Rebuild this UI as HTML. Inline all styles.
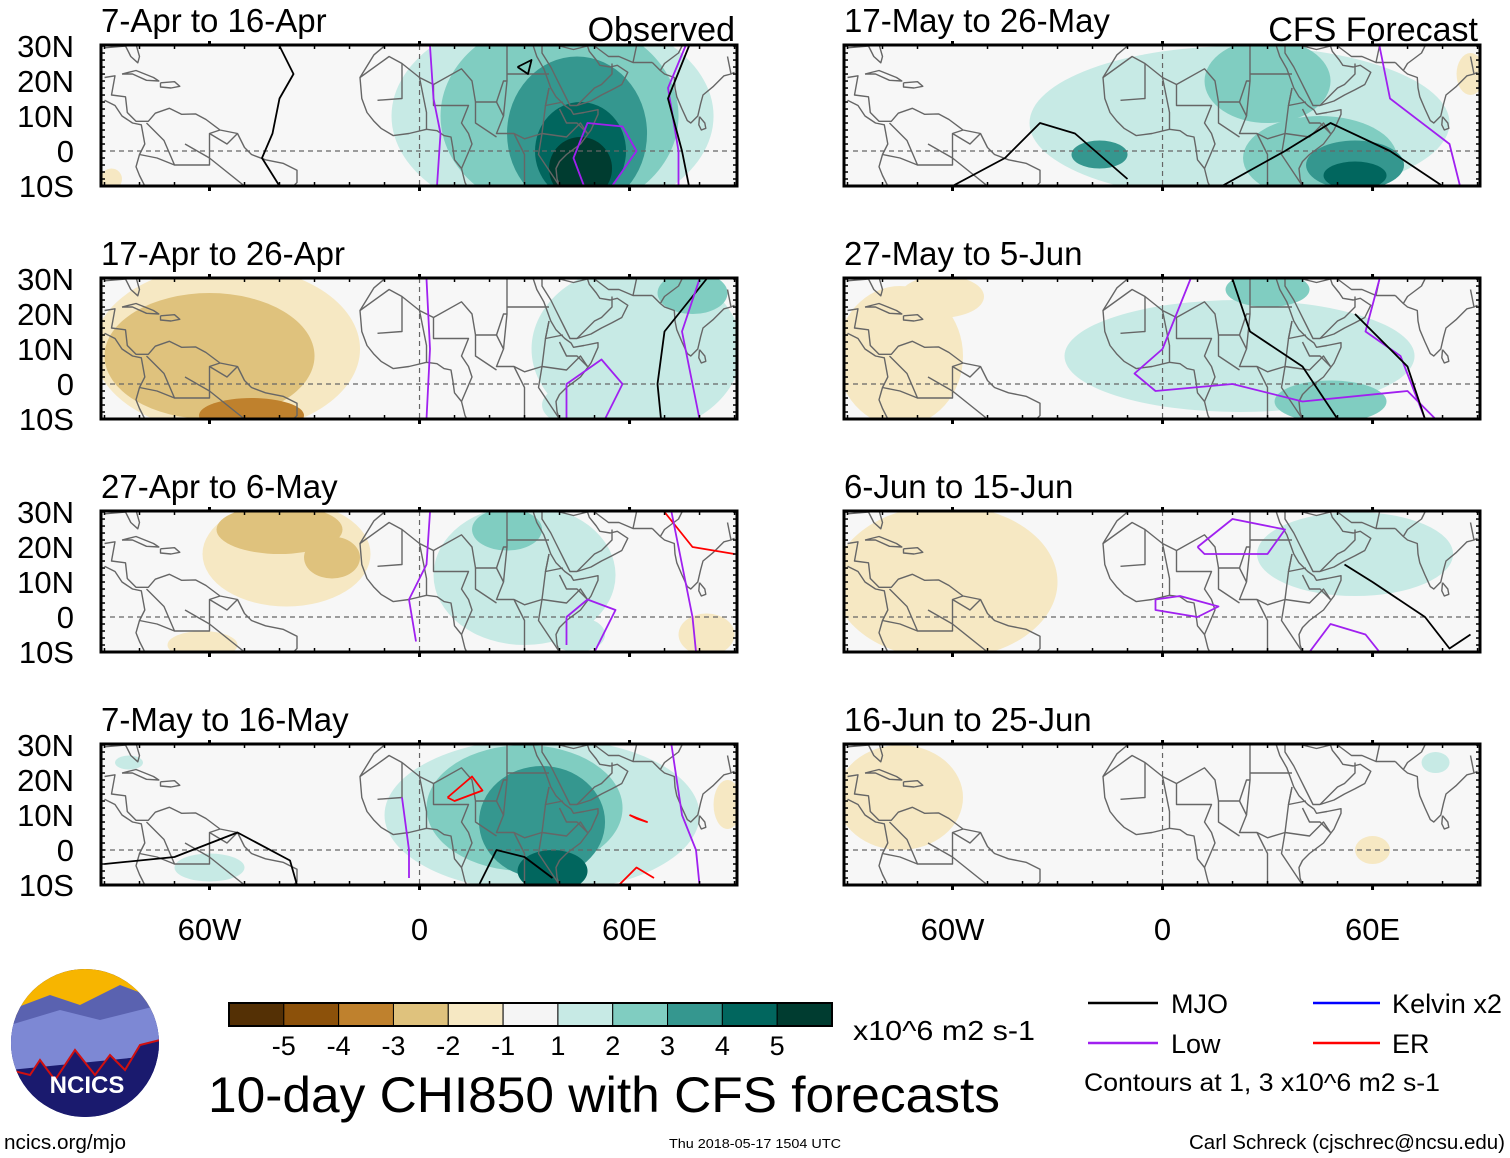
<!DOCTYPE html>
<html><head><meta charset="utf-8">
<style>
html,body{margin:0;padding:0;background:#fff;}
svg{display:block;font-family:"Liberation Sans",sans-serif;}
</style></head>
<body>
<svg id="chart" width="1510" height="1158" viewBox="0 0 1510 1158" xmlns="http://www.w3.org/2000/svg">
<g id="panels"></g>
<g id="legend">
  <g>
    <defs><clipPath id="logoClip"><ellipse cx="85" cy="1043" rx="74" ry="74"/></clipPath></defs>
    <g clip-path="url(#logoClip)">
      <rect x="10" y="968" width="150" height="150" fill="#1a1a6e"/>
      <rect x="10" y="968" width="150" height="50" fill="#f7b500"/>
      <path d="M10 1010 L50 995 L80 1005 L120 985 L160 1000 L160 1050 L10 1060Z" fill="#5a62b0"/>
      <path d="M10 1025 L60 1010 L100 1020 L160 1005 L160 1055 L10 1070Z" fill="#7d88d4"/>
      <path d="M10 1070 L30 1075 L40 1060 L55 1080 L75 1050 L95 1075 L110 1055 L125 1070 L140 1045 L160 1040 L160 1118 L10 1118Z" fill="#1a1a6e" stroke="#d01010" stroke-width="2"/>
    </g>
    <text x="87" y="1093" font-size="24" font-weight="bold" fill="#fff" text-anchor="middle">NCICS</text>
  </g>
  <g id="colorbar"></g>
  <text x="853" y="1040" font-size="28" textLength="182" lengthAdjust="spacingAndGlyphs">x10^6 m2 s-1</text>
  <text x="208" y="1112" font-size="50" textLength="792" lengthAdjust="spacingAndGlyphs">10-day CHI850 with CFS forecasts</text>
  <g><line x1="1088" y1="1003" x2="1158" y2="1003" stroke="#000" stroke-width="2.5"/><text x="1171" y="1013" font-size="27">MJO</text></g>
  <g><line x1="1088" y1="1043" x2="1158" y2="1043" stroke="#a020f0" stroke-width="2.5"/><text x="1171" y="1053" font-size="27">Low</text></g>
  <g><line x1="1313" y1="1003" x2="1380" y2="1003" stroke="#0000ff" stroke-width="2.5"/><text x="1392" y="1013" font-size="27" textLength="110" lengthAdjust="spacingAndGlyphs">Kelvin x2</text></g>
  <g><line x1="1313" y1="1043" x2="1380" y2="1043" stroke="#ff0000" stroke-width="2.5"/><text x="1392" y="1053" font-size="27">ER</text></g>
  <text x="1084" y="1091" font-size="25" textLength="356" lengthAdjust="spacingAndGlyphs">Contours at 1, 3 x10^6 m2 s-1</text>
  <text x="4" y="1149" font-size="20" textLength="122" lengthAdjust="spacingAndGlyphs">ncics.org/mjo</text>
  <text x="669" y="1148" font-size="13" textLength="172" lengthAdjust="spacingAndGlyphs">Thu 2018-05-17 1504 UTC</text>
  <text x="1505" y="1149" font-size="20" text-anchor="end" textLength="316" lengthAdjust="spacingAndGlyphs">Carl Schreck (cjschrec@ncsu.edu)</text>
</g>
</svg>
<script>
// ---- data ----
const levelValues = [-5,-4,-3,-2,-1,0,1,2,3,4,5];
const levelColors = ["#543005","#8c510a","#bf812d","#dfc27d","#f6e8c3","#f5f5f5","#c7eae5","#80cdc1","#35978f","#01665e","#003c30"];
const tickLabelsLat = ["30N","20N","10N","0","10S"];
const tickLatValues = [30,20,10,0,-10];
const tickLabelsLon = ["60W","0","60E"];
const tickLonValues = [-60,0,60];
const panelTitles = ["7-Apr to 16-Apr","17-Apr to 26-Apr","27-Apr to 6-May","7-May to 16-May","17-May to 26-May","27-May to 5-Jun","6-Jun to 15-Jun","16-Jun to 25-Jun"];
// blobs: [lon, lat, lonRadius, latRadius, level]
const blobsP1 = [[38,10,46,30,1],[-88,-8,3,3,-1],[40,10,34,28,2],[45,5,20,22,3],[46,0,13,14,4],[46,-5,9,9,5]];
const blobsP2 = [[-55,10,38,24,-1],[-60,8,30,18,-2],[-48,-9,15,5,-3],[62,10,30,24,1],[78,26,10,6,2],[45,-6,10,6,1]];
const blobsP3 = [[-38,18,24,15,-1],[-62,-8,10,4,-1],[-40,25,18,7,-2],[-25,17,8,6,-2],[82,-5,8,6,-1],[30,12,26,20,1],[25,25,10,6,2],[45,-5,8,5,1]];
const blobsP4 = [[35,10,45,22,1],[-83,25,4,2,1],[-60,-5,10,4,1],[30,12,28,18,2],[35,8,18,16,3],[38,-6,10,6,4],[88,13,4,7,-1]];
const blobsP5 = [[22,8,60,22,1],[30,20,18,12,2],[45,-2,22,12,2],[-18,-1,8,4,3],[55,-4,14,7,3],[55,-7,9,4,4],[88,22,4,6,-1]];
const blobsP6 = [[-75,8,18,20,-1],[-63,25,12,6,-1],[22,8,50,16,1],[30,27,12,5,2],[48,-5,16,6,2]];
const blobsP7 = [[-62,10,32,22,-1],[55,18,28,12,1]];
const blobsP8 = [[-75,15,18,15,-1],[60,0,5,4,-1],[78,25,4,3,1]];
const blobSets = [blobsP1,blobsP2,blobsP3,blobsP4,blobsP5,blobsP6,blobsP7,blobsP8];
// contours: [color, [[lon,lat],...]]
const contoursP1 = [["#000",[[-40,30],[-36,22],[-40,15],[-42,5],[-45,-2],[-40,-10]]],["#a020f0",[[3,30],[4,15],[6,5],[5,-10]]],["#a020f0",[[47,-10],[44,-2],[48,8],[58,7],[62,0],[55,-10]]],["#000",[[28,24],[32,26],[31,22],[28,24]]],["#a020f0",[[76,30],[71,18],[74,0],[74,-10]]],["#000",[[77,30],[71,15],[75,0],[77,-10]]]];
const contoursP2 = [["#a020f0",[[2,30],[3,10],[2,-10]]],["#a020f0",[[42,-10],[42,0],[52,7],[58,0],[53,-10]]],["#000",[[82,30],[70,15],[68,0],[69,-10]]],["#a020f0",[[80,30],[75,15],[78,0],[80,-10]]]];
const contoursP3 = [["#a020f0",[[3,30],[2,15],[-3,5],[-1,-7]]],["#a020f0",[[42,-8],[42,0],[48,5],[56,2],[50,-10]]],["#ff0000",[[70,30],[78,20],[90,18]]],["#a020f0",[[72,30],[75,15],[78,0],[79,-10]]]];
const contoursP4 = [["#000",[[-90,-4],[-70,-2],[-52,5],[-37,-3],[-35,-10]]],["#a020f0",[[-5,15],[-3,0],[-3,-8]]],["#ff0000",[[8,15],[15,21],[18,17],[10,14],[8,15]]],["#ff0000",[[60,10],[65,8],[62,9],[60,10]]],["#ff0000",[[57,-10],[62,-5],[67,-8]]],["#000",[[17,-10],[22,0],[30,-2],[38,-8]]],["#a020f0",[[72,30],[75,10],[79,0],[80,-10]]]];
const contoursP5 = [["#000",[[-60,-10],[-45,-2],[-35,8],[-25,5],[-10,-8]]],["#000",[[17,-10],[35,0],[48,8],[65,0],[80,-10]]],["#a020f0",[[62,30],[65,15],[82,2],[85,-10]]]];
const contoursP6 = [["#a020f0",[[8,30],[0,10],[-8,3],[-2,-2],[20,0],[40,-5],[70,-2],[78,-10]]],["#000",[[20,30],[25,15],[40,5],[50,-10]]],["#a020f0",[[62,30],[58,15],[68,8],[75,-10]]],["#000",[[55,20],[70,5],[75,-10]]]];
const contoursP7 = [["#a020f0",[[10,20],[20,28],[35,25],[30,18],[12,18],[10,20]]],["#a020f0",[[-2,5],[5,6],[16,3],[10,0],[-2,2],[-2,5]]],["#000",[[52,15],[60,10],[75,0],[82,-9],[88,-5]]],["#a020f0",[[42,-10],[48,-2],[58,-5],[62,-10]]]];
const contoursP8 = [];
const contourSets = [contoursP1,contoursP2,contoursP3,contoursP4,contoursP5,contoursP6,contoursP7,contoursP8];
// coastlines (lon,lat)
const coastAmericas = [[-90,29.5],[-84,30],[-82.5,27],[-80.5,25.2],[-80,27],[-81,30.5]];
const coastCentralSA = [[-90,21],[-87,21.5],[-88,16],[-84,15.5],[-83.5,11],[-81,8.5],[-77.5,8.5],[-75.5,10.8],[-71.5,12.2],[-68,10.5],[-64,10.6],[-61,9],[-57,6],[-52,5],[-50,1],[-48,-1],[-44,-2.5],[-39,-3.5],[-35,-5.5],[-35,-9],[-36,-10]];
const coastSAWest = [[-90,14.5],[-87,13],[-85,10],[-82,8],[-79.5,7.5],[-78.5,2],[-80,-1],[-81,-4.5],[-80,-7],[-78.5,-10]];
const coastCuba = [[-85,22],[-81,23],[-76,21],[-74.5,20],[-78,20.2],[-82,22],[-85,22]];
const coastHisp = [[-74,19.5],[-70,19.8],[-68.5,18.5],[-71,18],[-74,18.3],[-74,19.5]];
const coastAfricaW = [[-10,30],[-13,27.5],[-17,21],[-16.5,15],[-15,11],[-13,8.5],[-11,6.5],[-7.5,4.4],[-3,5],[2,6.2],[5,5.8],[7,4.4],[9,4],[9.5,1],[10,-2.5],[12,-5],[13,-9],[13.5,-10]];
const coastRedSea = [[32.5,30],[33.5,27],[35.5,23.5],[37.5,18],[39,15.5],[41.5,13],[43.3,11.7],[44,10.5],[47,11],[51,11.8],[51,10.5],[49,6],[46,2],[42,-1],[40,-3],[39,-5],[39.3,-8],[40,-10]];
const coastArabia = [[35,30],[35,28],[37.5,24],[39,21],[41,17],[43,13],[45,13],[49,14.3],[52,16],[55,17.5],[57.8,19],[59.5,22.5],[56.5,24.5],[54.5,24],[51.5,24.5],[50.5,26],[48.5,28.5],[48,30]];
const coastIran = [[50,30],[54,27],[57,27],[61,25.3],[66.5,25.3]];
const coastIndia = [[66.5,25.3],[68.8,23],[70,22],[72.8,21],[73,18],[73.5,15.5],[75,12],[76.5,8.7],[77.5,8],[79.5,10],[80.3,13.5],[81,16],[84,18.5],[87,21.5],[89,22],[90,22.5]];
const coastSriLanka = [[80,9.8],[81.5,8],[81.8,6.5],[80.5,6],[79.8,7.5],[80,9.8]];
const coastlines = [coastAmericas,coastCentralSA,coastSAWest,coastCuba,coastHisp,coastAfricaW,coastRedSea,coastArabia,coastIran,coastIndia,coastSriLanka];
const borders = [[[-17,21],[-8.7,27],[-5,25],[0,21],[4,19],[12,23.5],[15,20],[16,14],[22,14],[24,10],[22,5],[27,5],[30,3.5],[35,5],[36,13],[37,18]],[[-5,25],[-5,15],[-12,14.5]],[[0,21],[2,11],[2,6.2]],[[4,19],[4,13],[9,13],[14,13],[12,8],[14,5],[15,2],[12,-5]],[[16,14],[16,8],[22,4]],[[25,30],[25,20],[24,10]],[[22,14],[24,20],[25,20]],[[25,22],[37,22]],[[27,5],[30,-1],[30,-10]],[[35,5],[42,4],[46,8],[48,5]],[[35,5],[34,-1],[40,-10]],[[37,18],[36,13],[41,14]],[[40,12],[42,8],[45,8],[48,5]],[[45,13],[50,18],[52,19],[55,22],[55,25]],[[40,30],[44,29],[48,30]],[[-78,8],[-73,3],[-70,-4],[-60,-4],[-60,5],[-57,6]],[[-67,2],[-60,-2],[-50,-10]],[[-70,-4],[-75,-2],[-80,-1]],[[-60,5],[-55,2],[-52,5]],[[62,30],[61,25.3]],[[75,30],[74,28],[70,25],[68.8,23]],[[88,27],[89,22]]];

// ---- geometry ----
const lonMin=-91, lonMax=90.7, latMin=-10, latMax=30.3;
const panelX=[101,844], panelY=[45,278,511,744], PW=636, PH=141;
function xScale(px,lon){return px + (lon-lonMin)/(lonMax-lonMin)*PW;}
function yScale(py,lat){return py + (latMax-lat)/(latMax-latMin)*PH;}
function colorFor(level){return levelColors[levelValues.indexOf(level)];}
const NS="http://www.w3.org/2000/svg";
function mk(tag,attrs,parent){const e=document.createElementNS(NS,tag);for(const k in attrs)e.setAttribute(k,attrs[k]);parent.appendChild(e);return e;}
function pathFrom(px,py,pts){return pts.map((p,i)=>(i?"L":"M")+xScale(px,p[0]).toFixed(1)+" "+yScale(py,p[1]).toFixed(1)).join(" ");}

const panelsG=document.getElementById('panels');
for(let i=0;i<8;i++){
  const col=i<4?0:1, row=i%4;
  const px=panelX[col], py=panelY[row];
  const g=mk('g',{},panelsG);
  
  
  const cid='clip'+i;
  const cp=mk('clipPath',{id:cid},g); mk('rect',{x:px,y:py,width:PW,height:PH},cp);
  const bg=mk('rect',{x:px,y:py,width:PW,height:PH,fill:'#f7f7f7'},g);
  
  
  const inner=mk('g',{'clip-path':'url(#'+cid+')'},g);
  const blobs=blobSets[i].slice().sort((a,b)=>Math.abs(a[4])-Math.abs(b[4]));
  blobs.forEach(b=>{
    const cx=xScale(px,b[0]), cy=yScale(py,b[1]);
    const rx=b[2]*PW/(lonMax-lonMin), ry=b[3]*PH/(latMax-latMin);
    const e=mk('ellipse',{cx:cx,cy:cy,rx:rx,ry:ry,fill:colorFor(b[4])},inner);
    
    
  });
  coastlines.concat(borders).forEach(c=>{
    const p=mk('path',{d:pathFrom(px,py,c),fill:'none',stroke:'#666','stroke-width':1.4,'stroke-linejoin':'round'},inner);
    
    
  });
  const eq=mk('line',{x1:px,x2:px+PW,y1:yScale(py,0),y2:yScale(py,0),stroke:'#666','stroke-width':1.2,'stroke-dasharray':'5,4'},inner);
  
  
  const pm=mk('line',{x1:xScale(px,0),x2:xScale(px,0),y1:py,y2:py+PH,stroke:'#666','stroke-width':1.2,'stroke-dasharray':'5,4'},inner);
  
  
  contourSets[i].forEach(c=>{
    const p=mk('path',{d:pathFrom(px,py,c[1]),fill:'none',stroke:c[0],'stroke-width':1.8,'stroke-linejoin':'round'},inner);
    
    
  });
  const fr=mk('rect',{x:px,y:py,width:PW,height:PH,fill:'none',stroke:'#000','stroke-width':3},g);
  
  
  for(let lon=-90;lon<=90;lon+=10){
    const x=xScale(px,lon), major=(lon%60===0);
    mk('line',{x1:x,x2:x,y1:py-(major?4:0),y2:py+(major?0:4),stroke:'#000','stroke-width':major?3:1.5},g);
    mk('line',{x1:x,x2:x,y1:py+PH-(major?0:4),y2:py+PH+(major?5:0),stroke:'#000','stroke-width':major?3:1.5},g);
  }
  for(let lat=-10;lat<=30;lat+=2){
    const y=yScale(py,lat);
    mk('line',{x1:px,x2:px+4,y1:y,y2:y,stroke:'#000','stroke-width':1.5},g);
    mk('line',{x1:px+PW-4,x2:px+PW,y1:y,y2:y,stroke:'#000','stroke-width':1.5},g);
  }
  const t=mk('text',{x:px,y:py-13,'font-size':33},g); t.textContent=panelTitles[i];
  
  
  if(i===0||i===4){
    const s=mk('text',{x:px+PW-2,y:py-4,'font-size':34,'text-anchor':'end'},g); s.textContent=i===0?'Observed':'CFS Forecast';
    
    
  }
  if(col===0){
    tickLatValues.forEach((lat,k)=>{
      const tl=mk('text',{x:74,y:yScale(py,lat)+11,'font-size':31,'text-anchor':'end'},g); tl.textContent=tickLabelsLat[k];
      
      
    });
  }
  if(row===3){
    tickLonValues.forEach((lon,k)=>{
      const tl=mk('text',{x:xScale(px,lon),y:940,'font-size':31,'text-anchor':'middle'},g); tl.textContent=tickLabelsLon[k];
      
      
    });
  }
}
const cb=document.getElementById('colorbar');
const cbX=229, cbW=603, cbY=1003, cbH=23, bw=cbW/levelColors.length;
levelColors.forEach((c,k)=>{
  const r=mk('rect',{x:cbX+k*bw,y:cbY,width:bw,height:cbH,fill:c,stroke:'#000','stroke-width':1},cb);
  
  
});
mk('rect',{x:cbX,y:cbY,width:cbW,height:cbH,fill:'none',stroke:'#000','stroke-width':2},cb);
const cbLabels=["-5","-4","-3","-2","-1","1","2","3","4","5"];
cbLabels.forEach((l,k)=>{
  const t=mk('text',{x:cbX+(k+1)*bw,y:1055,'font-size':27,'text-anchor':'middle'},cb); t.textContent=l;
  
  
});
</script>
</body></html>
